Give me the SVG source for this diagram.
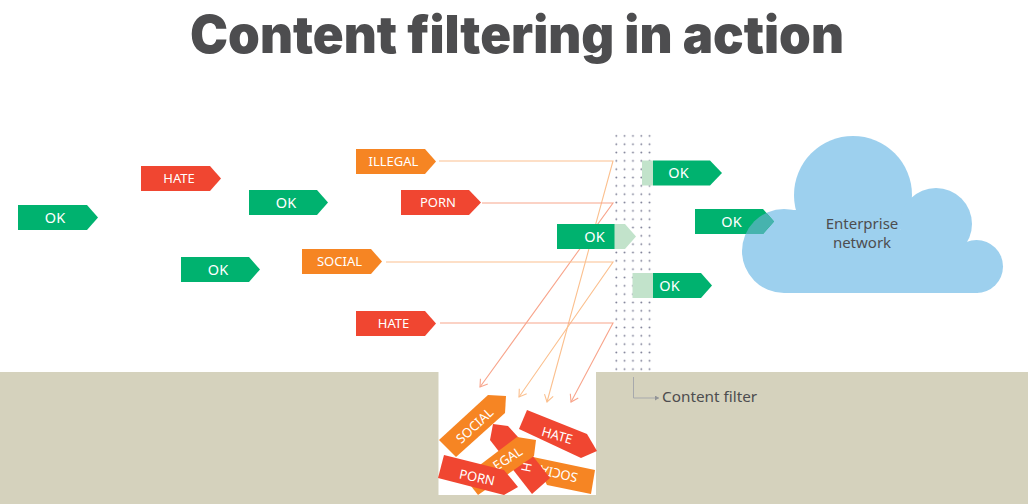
<svg xmlns="http://www.w3.org/2000/svg" width="1028" height="504" viewBox="0 0 1028 504">
<style>
text{font-family:"Noto Sans","Liberation Sans",sans-serif}
.t{font-family:Inter,"Liberation Sans",sans-serif;font-weight:900;font-size:52px;fill:#4d4d4f}
.l{font-size:13px;font-weight:400;fill:#fff;text-anchor:middle}
.k{font-size:14.500px;font-weight:400;fill:#fff;text-anchor:middle}
.g{fill:#00b26f}.r{fill:#f04631}.o{fill:#f68523}.lg{fill:#c2e3cb}
.c{fill:none;stroke-width:1.100}
.p{stroke:#f8a58c}.y{stroke:#fbc08f}
.d{font-size:15.300px;fill:#4d4d4f}
.n{font-size:15px;fill:#4d4d4f;text-anchor:middle}
.cl{fill:#9dd0ee}
</style>
<defs>
<marker id="ap" markerUnits="userSpaceOnUse" markerWidth="10" markerHeight="12" refX="8" refY="6" orient="auto"><path d="M1 1.500L8 6L1 10.500" fill="none" stroke="#f8a58c" stroke-width="1.100"/></marker>
<marker id="ay" markerUnits="userSpaceOnUse" markerWidth="10" markerHeight="12" refX="8" refY="6" orient="auto"><path d="M1 1.500L8 6L1 10.500" fill="none" stroke="#fbc08f" stroke-width="1.100"/></marker>
<marker id="ag" markerUnits="userSpaceOnUse" markerWidth="6" markerHeight="6" refX="4" refY="2.500" orient="auto"><path d="M0 0L4 2.500L0 5Z" fill="#929497"/></marker>
<pattern id="dots" x="615" y="134.500" width="8.330" height="8.330" patternUnits="userSpaceOnUse"><circle cx="1.300" cy="1.300" r="0.900" fill="#767890"/></pattern>
<clipPath id="cc"><circle cx="784" cy="251" r="42"/></clipPath>
</defs>
<text class="t" x="517" y="53" text-anchor="middle" textLength="654" lengthAdjust="spacingAndGlyphs">Content filtering in action</text>
<rect id="dots-filter" x="615" y="134.500" width="37" height="237" fill="url(#dots)"/>
<g id="ground"><rect x="0" y="372" width="1028" height="132" fill="#d5d2bd"/><rect x="438.500" y="372" width="157.500" height="123" fill="#fff"/></g>
<g id="cloud"><circle class="cl" cx="853" cy="195" r="59"/><circle class="cl" cx="784" cy="251" r="42"/><circle class="cl" cx="936" cy="224" r="36"/><circle class="cl" cx="976.500" cy="266.500" r="26.500"/><path class="cl" d="M784 293V230H955V250H978V293Z"/><path class="cl" d="M790 210H900V240H790Z"/><text class="n" x="862" y="229">Enterprise</text><text class="n" x="862" y="248">network</text></g>
<g id="connectors">
<path class="c y" marker-end="url(#ay)" d="M439 161H613L547 402"/>
<path class="c p" marker-end="url(#ap)" d="M482 203H613L480 387"/>
<path class="c y" marker-end="url(#ay)" d="M386 262H613L519 397"/>
<path class="c p" marker-end="url(#ap)" d="M440 323H613L571 402"/>
<path fill="none" stroke="#a7a9ac" marker-end="url(#ag)" d="M633.500 377V398H659"/>
</g>
<g id="ok-a"><path class="g" d="M18 205H87L98 217.500L87 230H18Z"/><text class="k" x="55" y="223">OK</text></g>
<g id="hate-a"><path class="r" d="M141 166H210L221 178.500L210 191H141Z"/><text class="l" x="179" y="183">HATE</text></g>
<g id="ok-b"><path class="g" d="M249 190H317L328 202.500L317 215H249Z"/><text class="k" x="286" y="208">OK</text></g>
<g id="ok-c"><path class="g" d="M181 257H249L260 269.500L249 282H181Z"/><text class="k" x="218" y="275">OK</text></g>
<g id="illegal"><path class="o" d="M356 149H425L436 161.500L425 174H356Z"/><text class="l" x="393.500" y="166">ILLEGAL</text></g>
<g id="porn"><path class="r" d="M401 190H469L481 202.500L469 215H401Z"/><text class="l" x="438" y="207">PORN</text></g>
<g id="social"><path class="o" d="M302 249H371L382 261.500L371 274H302Z"/><text class="l" x="339.500" y="266">SOCIAL</text></g>
<g id="hate-b"><path class="r" d="M356 311H425L436 323.500L425 336H356Z"/><text class="l" x="393.500" y="328">HATE</text></g>
<g id="ok-mid"><path class="lg" d="M614 224H625L636 236.500L625 249H614Z"/><path class="g" d="M557 224H614.500V249H557Z"/><text class="k" x="594.500" y="242">OK</text></g>
<g id="ok-top"><path class="lg" d="M642 160.500H653V185.500H642Z"/><path class="g" d="M653 160.500H710L722 173L710 185.500H653Z"/><text class="k" x="678.500" y="178">OK</text></g>
<g id="ok-bottom"><path class="lg" d="M632.500 273H653V298H632.500Z"/><path class="g" d="M653 273H701L712 285.500L701 298H653Z"/><text class="k" x="669.500" y="291">OK</text></g>
<g id="ok-cloud"><path class="g" d="M695 209H763L774 221.500L763 234H695Z"/><path fill="#46b3ae" clip-path="url(#cc)" d="M695 209H763L774 221.500L763 234H695Z"/><text class="k" x="731.500" y="227">OK</text></g>
<g id="filter-label"><text class="d" x="662" y="402">Content filter</text></g>
<g id="debris">
<path class="o" d="M533 457L595 470L591 494L547 485Z"/>
<text class="l" transform="translate(559 473) rotate(193)" y="4">SOCIA</text>
<path class="r" d="M493 424L508 426L518 437L550 478L532 494L490 440Z"/>
<text class="l" transform="translate(526 467) rotate(102)" y="4">H</text>
<path class="o" d="M517 437L536 440L534 456L478 495L464 477Z"/>
<text class="l" transform="translate(508 459) rotate(-33)" y="4">EGAL</text>
<path class="o" d="M439 440L488 395L506 396L505 413L456 457Z"/>
<text class="l" transform="translate(475 426) rotate(-43)" y="4">SOCIAL</text>
<path class="r" d="M527 410L587 434L597 451L581 458L519 429Z"/>
<text class="l" transform="translate(557 436) rotate(16)" y="4">HATE</text>
<path class="r" d="M444 455L504 470L518 487L504 495L438 478Z"/>
<text class="l" transform="translate(477 478) rotate(12)" y="4">PORN</text>
</g>
</svg>
